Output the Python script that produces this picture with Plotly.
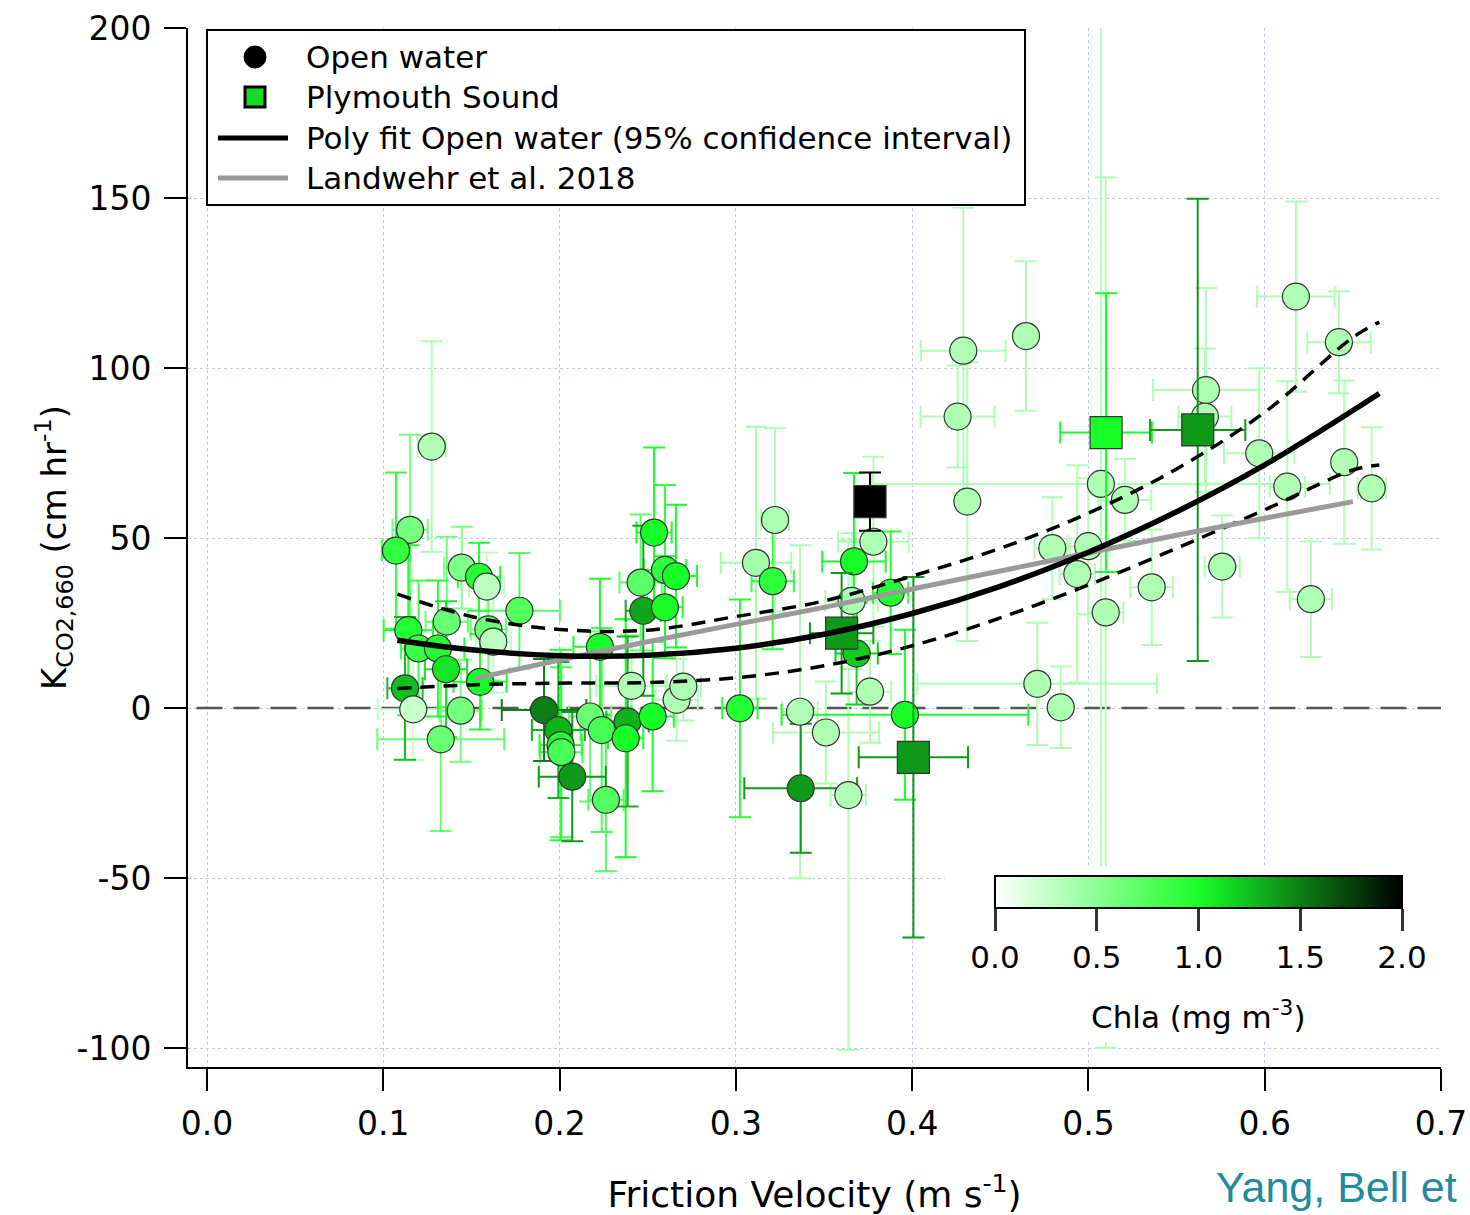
import plotly.graph_objects as go
from plotly.colors import sample_colorscale

# ---------------- data ----------------
# Open water points: friction velocity, K, x-error, y-error, Chla
ow_x = [0.1275, 0.1152, 0.1072, 0.1445, 0.1543, 0.1587, 0.1772, 0.1142, 0.1360, 0.1200,
        0.1310, 0.1596, 0.1624, 0.1356, 0.1123, 0.1549, 0.1170, 0.1439, 0.1326, 0.1912,
        0.1993, 0.2006, 0.2010, 0.2072, 0.2173, 0.2239, 0.2263, 0.2229, 0.2386, 0.2375,
        0.2528, 0.2664, 0.2702, 0.2409, 0.2536, 0.2460, 0.2598, 0.2660, 0.2475, 0.2598,
        0.3222, 0.3114, 0.3209, 0.3780, 0.3670, 0.3878, 0.3657, 0.3685, 0.3761, 0.3023,
        0.3364, 0.3511, 0.3959, 0.3368, 0.3638, 0.4290, 0.4646, 0.4258, 0.4313, 0.5071,
        0.5207, 0.4795, 0.4999, 0.4937, 0.5359, 0.5098, 0.4710, 0.4843, 0.6177, 0.6421,
        0.5667, 0.5661, 0.5969, 0.6451, 0.6128, 0.6607, 0.5759, 0.6262]
ow_y = [76.9, 52.4, 46.3, 41.3, 38.6, 35.7, 28.6, 22.9, 25.4, 17.5,
        17.5, 23.1, 19.5, 11.4, 5.8, 7.7, -0.4, -0.8, -9.2, -0.6,
        -6.5, -10.9, -13.0, -20.2, -2.5, -6.5, -27.0, 18.0, -4.0, -8.9,
        -2.5, 2.4, 6.3, 6.5, 51.6, 36.9, 40.6, 38.8, 28.6, 29.6,
        55.3, 42.7, 37.3, 48.9, 43.1, 33.9, 31.5, 16.0, 4.8, -0.1,
        -1.1, -7.2, -2.0, -23.6, -25.6, 105.1, 109.4, 85.7, 60.7, 65.9,
        61.2, 47.0, 47.6, 39.4, 35.5, 28.1, 7.1, 0.2, 121.0, 107.6,
        93.5, 85.7, 74.9, 72.3, 65.1, 64.6, 41.6, 32.0]
ow_xerr = [0.008, 0.010, 0.008, 0.010, 0.012, 0.010, 0.023, 0.014, 0.012, 0.010,
           0.015, 0.010, 0.010, 0.012, 0.010, 0.015, 0.020, 0.012, 0.036, 0.024,
           0.015, 0.012, 0.012, 0.019, 0.012, 0.012, 0.010, 0.015, 0.012, 0.010,
           0.012, 0.012, 0.010, 0.020, 0.010, 0.012, 0.012, 0.012, 0.010, 0.010,
           0.008, 0.020, 0.012, 0.020, 0.018, 0.010, 0.015, 0.012, 0.012, 0.010,
           0.010, 0.030, 0.070, 0.032, 0.010, 0.024, 0.000, 0.021, 0.005, 0.130,
           0.015, 0.010, 0.012, 0.010, 0.012, 0.010, 0.068, 0.000, 0.022, 0.018,
           0.030, 0.015, 0.020, 0.005, 0.010, 0.008, 0.010, 0.012]
ow_yerr = [31, 28, 23, 12, 10, 10, 17, 25, 25, 20,
           20, 15, 15, 20, 21, 14, 15, 15, 27, 15,
           20, 28, 25, 19, 25, 30, 21, 20, 25, 35,
           22, 12, 10, 15, 25, 20, 25, 21, 25, 15,
           27, 40, 20, 25, 26, 18, 20, 15, 15, 32,
           49, 15, 25, 19, 75, 42, 22, 15, 41, 140,
           12, 15, 20, 32, 17, 128, 18, 12, 28, 15,
           30, 20, 25, 24, 31, 18, 15, 17]
ow_chla = [0.35, 0.6, 0.9, 0.55, 0.95, 0.3, 0.75, 0.95, 0.65, 0.85,
           0.95, 0.65, 0.3, 1.1, 1.25, 1.0, 0.25, 0.6, 0.65, 1.5,
           1.3, 0.95, 0.8, 1.4, 0.65, 0.8, 0.75, 1.0, 1.3, 1.0,
           1.0, 0.35, 0.35, 0.35, 1.0, 0.7, 0.9, 1.0, 1.35, 1.0,
           0.35, 0.4, 0.9, 0.35, 1.0, 0.95, 0.35, 1.2, 0.35, 0.95,
           0.35, 0.35, 1.0, 1.4, 0.35, 0.35, 0.35, 0.35, 0.35, 0.35,
           0.35, 0.35, 0.35, 0.35, 0.35, 0.35, 0.35, 0.35, 0.35, 0.35,
           0.35, 0.35, 0.35, 0.35, 0.35, 0.35, 0.35, 0.35]

# Plymouth Sound points
ps_x = [0.3761, 0.3600, 0.4007, 0.5100, 0.5620]
ps_y = [60.7, 22.0, -14.5, 81.0, 81.8]
ps_xerr = [0.0, 0.018, 0.031, 0.026, 0.027]
ps_yerr = [8.6, 17.7, 53, 41, 68]
ps_chla = [2.0, 1.4, 1.4, 1.0, 1.4]

# Poly fit (open water) and 95% confidence interval
fit_x = [0.108, 0.15, 0.20, 0.25, 0.30, 0.35, 0.40, 0.45, 0.50, 0.55, 0.60, 0.65, 0.665]
fit_y = [19.9, 17.1, 15.4, 15.5, 17.6, 21.7, 27.8, 35.8, 45.8, 57.7, 71.5, 87.5, 92.5]
ci_hi = [33.5, 26.9, 23.1, 22.9, 26.9, 31.5, 38.8, 47.0, 57.3, 70.3, 87.0, 109.0, 113.5]
ci_lo = [5.7, 6.8, 7.3, 7.5, 8.9, 12.4, 18.3, 26.5, 36.2, 47.0, 58.3, 70.0, 71.5]

# Landwehr et al. 2018
lw_x = [0.152, 0.20, 0.25, 0.30, 0.35, 0.40, 0.45, 0.50, 0.55, 0.60, 0.65]
lw_y = [8.7, 14.1, 19.5, 24.6, 29.6, 35.0, 40.3, 45.6, 50.8, 55.8, 60.7]

# zero reference line
zero_x = [-0.006, 0.7]
zero_y = [0, 0]

x_ticks = [0.0, 0.1, 0.2, 0.3, 0.4, 0.5, 0.6, 0.7]
x_ticktext = ["0.0", "0.1", "0.2", "0.3", "0.4", "0.5", "0.6", "0.7"]
y_ticks = [-100, -50, 0, 50, 100, 150, 200]
y_ticktext = ["-100", "-50", "0", "50", "100", "150", "200"]
cb_ticks = [0, 0.5, 1.0, 1.5, 2.0]
cb_ticktext = ["0.0", "0.5", "1.0", "1.5", "2.0"]

legend_labels = ["Open water", "Plymouth Sound",
                 "Poly fit Open water (95% confidence interval)", "Landwehr et al. 2018"]

# ---------------- figure ----------------
FONT = "DejaVu Sans"
cscale = [[0, "#ffffff"], [0.5, "#18ff28"], [1, "#000000"]]
CMIN, CMAX = 0.0, 2.0
L, R, T, B = 188, 1441, 28, 1067
W, H = 1470, 1215


def chla_color(v):
    return sample_colorscale(cscale, [(v - CMIN) / (CMAX - CMIN)])[0]


def px(xp):
    return (xp - L) / (R - L)


def py(yp):
    return (B - yp) / (B - T)


fig = go.Figure()

fig.add_trace(go.Scatter(x=zero_x, y=zero_y, mode="lines", showlegend=False, hoverinfo="skip",
                         line=dict(color="#555555", width=2.5, dash="26px,11px")))


def add_errorbars(xs, ys, xe, ye, cs):
    groups = {}
    for i, c in enumerate(cs):
        groups.setdefault(c, []).append(i)
    for c, idx in sorted(groups.items()):
        col = chla_color(c)
        fig.add_trace(go.Scatter(
            x=[xs[i] for i in idx], y=[ys[i] for i in idx], mode="markers",
            marker=dict(size=2, opacity=0), showlegend=False, hoverinfo="skip",
            error_x=dict(type="data", array=[xe[i] for i in idx], color=col, thickness=2, width=11),
            error_y=dict(type="data", array=[ye[i] for i in idx], color=col, thickness=2, width=11)))


add_errorbars(ow_x, ow_y, ow_xerr, ow_yerr, ow_chla)
fig.add_trace(go.Scatter(x=ow_x, y=ow_y, mode="markers", name=legend_labels[0], showlegend=False,
                         marker=dict(symbol="circle", size=27, color=ow_chla, coloraxis="coloraxis",
                                     line=dict(color="#333333", width=1.2))))
add_errorbars(ps_x, ps_y, ps_xerr, ps_yerr, ps_chla)
fig.add_trace(go.Scatter(x=ps_x, y=ps_y, mode="markers", name=legend_labels[1], showlegend=False,
                         marker=dict(symbol="square", size=32, color=ps_chla, coloraxis="coloraxis",
                                     line=dict(color="#333333", width=1.2))))

# fits
fig.add_trace(go.Scatter(x=fit_x, y=ci_hi, mode="lines", showlegend=False,
                         line=dict(color="black", width=3.5, dash="14px,9px", shape="spline")))
fig.add_trace(go.Scatter(x=fit_x, y=ci_lo, mode="lines", showlegend=False,
                         line=dict(color="black", width=3.5, dash="14px,9px", shape="spline")))
fig.add_trace(go.Scatter(x=lw_x, y=lw_y, mode="lines", name=legend_labels[3], showlegend=False,
                         line=dict(color="#9a9a9a", width=5, shape="spline")))
fig.add_trace(go.Scatter(x=fit_x, y=fit_y, mode="lines", name=legend_labels[2], showlegend=False,
                         line=dict(color="black", width=5.5, shape="spline")))

# legend box (drawn as shapes + text, like the original Igor legend)
row_y = [57, 97, 138, 178]
shapes = [
    dict(type="rect", xref="paper", yref="paper", x0=px(207), x1=px(1025), y0=py(205), y1=py(30),
         fillcolor="white", line=dict(color="black", width=2), layer="above"),
    dict(type="circle", xref="paper", yref="paper", x0=px(244), x1=px(266),
         y0=py(row_y[0] + 11), y1=py(row_y[0] - 11), fillcolor="black",
         line=dict(color="black", width=1), layer="above"),
    dict(type="rect", xref="paper", yref="paper", x0=px(245), x1=px(265),
         y0=py(row_y[1] + 10), y1=py(row_y[1] - 10), fillcolor="#18d828",
         line=dict(color="black", width=3), layer="above"),
    dict(type="line", xref="paper", yref="paper", x0=px(218), x1=px(288),
         y0=py(row_y[2]), y1=py(row_y[2]), line=dict(color="black", width=5), layer="above"),
    dict(type="line", xref="paper", yref="paper", x0=px(218), x1=px(288),
         y0=py(row_y[3]), y1=py(row_y[3]), line=dict(color="#9a9a9a", width=5), layer="above"),
    # white background behind the colour scale
    dict(type="rect", xref="paper", yref="paper",
         x0=px(945), x1=1.0, y0=py(1042), y1=py(866),
         fillcolor="white", line=dict(width=0), layer="above"),
]

annotations = [
    dict(text=lab, xref="paper", yref="paper", x=px(304), y=py(yy), xanchor="left",
         yanchor="middle", showarrow=False, font=dict(family=FONT, size=31, color="black"))
    for lab, yy in zip(legend_labels, row_y)
]
annotations += [
    dict(text="Chla (mg m<sup>-3</sup>)", xref="paper", yref="paper",
         x=px(1198.5), y=py(1015), xanchor="center", yanchor="middle",
         showarrow=False, font=dict(family=FONT, size=31, color="black")),
    dict(text="Yang, Bell et", xref="paper", yref="paper",
         x=px(1459), y=py(1187), xanchor="right", yanchor="middle",
         showarrow=False, font=dict(family="Liberation Sans", size=43, color="#1f8c9c")),
]

fig.update_layout(
    width=W, height=H,
    margin=dict(l=L, r=W - R, t=T, b=H - B, pad=0, autoexpand=False),
    plot_bgcolor="white", paper_bgcolor="white",
    font=dict(family=FONT, size=30, color="black"),
    showlegend=False,
    coloraxis=dict(
        cmin=CMIN, cmax=CMAX, colorscale=cscale,
        colorbar=dict(
            orientation="h", x=px(1198.5), xanchor="center",
            y=py(876), yanchor="top",
            len=407, lenmode="pixels", thickness=32, thicknessmode="pixels",
            outlinewidth=2, outlinecolor="black", xpad=0, ypad=0,
            ticks="outside", ticklen=22, tickwidth=2.5, tickcolor="#333333",
            tickvals=cb_ticks, ticktext=cb_ticktext,
            tickfont=dict(family=FONT, size=31, color="black"),
            bgcolor="rgba(0,0,0,0)")),
    xaxis=dict(range=[(L - 207) / 1762.9, 0.7], tickvals=x_ticks, ticktext=x_ticktext,
               automargin=False,
               showgrid=True, gridcolor="#c4c4f4", griddash="dot", gridwidth=1,
               zeroline=False, showline=True, linecolor="black", linewidth=2,
               ticks="outside", ticklen=22, tickwidth=2, tickcolor="black",
               ticklabelstandoff=4,
               tickfont=dict(family=FONT, size=33),
               title=dict(text="Friction Velocity (m s<sup>-1</sup>)", standoff=40,
                          font=dict(family=FONT, size=36))),
    yaxis=dict(range=[(708 - B) / 3.4, 200], tickvals=y_ticks, ticktext=y_ticktext,
               automargin=False,
               showgrid=True, gridcolor="#c4c4f4", griddash="dot", gridwidth=1,
               zeroline=False, showline=True, linecolor="black", linewidth=2,
               ticks="outside", ticklen=22, tickwidth=2, tickcolor="black",
               ticklabelstandoff=6,
               tickfont=dict(family=FONT, size=33),
               title=dict(text="K<sub>CO2,660</sub> (cm hr<sup>-1</sup>)", standoff=0,
                          font=dict(family=FONT, size=34))),
    shapes=shapes,
    annotations=annotations,
)

fig.write_html("out.html")
